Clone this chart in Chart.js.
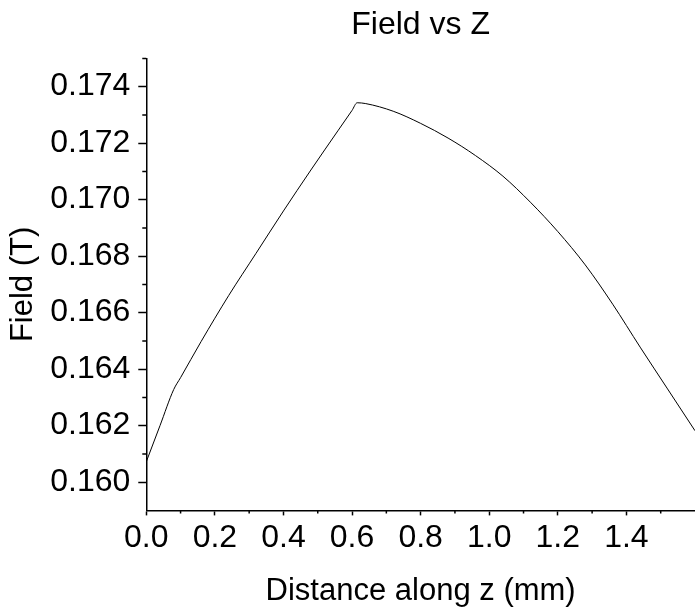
<!DOCTYPE html>
<html>
<head>
<meta charset="utf-8">
<title>Field vs Z</title>
<script src="https://cdn.jsdelivr.net/npm/chart.js@4.4.1/dist/chart.umd.min.js"></script>
<style>
    html, body { margin: 0; padding: 0; background: #fff; }
    #wrap { width: 695px; height: 612px; position: relative; }
</style>
</head>
<body>
<div id="wrap"><canvas id="fieldChart"></canvas></div>
<script>
const zValues = [0, 0.04, 0.08, 0.10, 0.16, 0.24, 0.32, 0.40, 0.48, 0.56, 0.60, 0.615, 0.64, 0.72, 0.80,
    0.88, 0.96, 1.04, 1.12, 1.20, 1.28, 1.36, 1.44, 1.52, 1.60];
const fieldValues = [0.16072, 0.16200, 0.16328, 0.16370, 0.16498, 0.16660, 0.16810, 0.16960, 0.17105, 0.17246,
    0.17316, 0.17343, 0.17340, 0.17313, 0.17270, 0.17218, 0.17156, 0.17083, 0.16991, 0.16887,
    0.16769, 0.16630, 0.16478, 0.16330, 0.16182];

const xMajorTicks = [0, 0.2, 0.4, 0.6, 0.8, 1.0, 1.2, 1.4];
const xMinorTicks = [0.1, 0.3, 0.5, 0.7, 0.9, 1.1, 1.3, 1.5];
const yMajorTicks = [0.160, 0.162, 0.164, 0.166, 0.168, 0.170, 0.172, 0.174];
const yMinorTicks = [0.161, 0.163, 0.165, 0.167, 0.169, 0.171, 0.173, 0.175];

const fontFamily = "'Liberation Sans', Arial, sans-serif";
Chart.defaults.color = '#000';
Chart.defaults.font.family = fontFamily;

// short minor tick marks, placed through the scales
const minorTicks = {
    id: 'minorTicks',
    afterDraw(chart) {
        const ctx = chart.ctx;
        const xs = chart.scales.x;
        const ys = chart.scales.y;
        ctx.save();
        ctx.strokeStyle = '#000';
        ctx.lineWidth = 1.5;
        ctx.beginPath();
        xMinorTicks.forEach(v => {
            const px = xs.getPixelForValue(v);
            ctx.moveTo(px, xs.top);
            ctx.lineTo(px, xs.top + 3);
        });
        yMinorTicks.forEach(v => {
            const py = ys.getPixelForValue(v);
            ctx.moveTo(ys.right, py);
            ctx.lineTo(ys.right - 4, py);
        });
        ctx.stroke();
        ctx.restore();
    }
};

const data = {
    datasets: [{
        data: zValues.map((z, i) => ({ x: z, y: fieldValues[i] })),
        borderColor: '#000',
        borderWidth: 1,
        pointRadius: 0,
        cubicInterpolationMode: 'monotone',
        fill: false,
    }],
};

const config = {
    type: 'line',
    data: data,
    options: {
        responsive: true,
        maintainAspectRatio: false,
        animation: false,
        layout: { padding: { left: 0, right: 0, top: 0, bottom: 0 } },
        plugins: {
            legend: { display: false },
            tooltip: { enabled: false },
            title: {
                display: true,
                text: 'Field vs Z',
                fullSize: false,
                font: { size: 32, weight: 'normal' },
                padding: { top: 6, bottom: 14 },
            },
        },
        scales: {
            x: {
                type: 'linear',
                min: 0,
                max: 1.6,
                afterBuildTicks: s => { s.ticks = xMajorTicks.map(v => ({ value: v })); },
                ticks: {
                    font: { size: 32 },
                    padding: 4,
                    maxRotation: 0,
                    callback: v => v.toFixed(1),
                },
                grid: { drawOnChartArea: false, tickLength: 5, tickColor: '#000', tickWidth: 1.5 },
                border: { color: '#000', width: 1.5 },
                title: {
                    display: true,
                    text: 'Distance along z (mm)',
                    font: { size: 31 },
                    padding: { top: 11, bottom: 2 },
                },
            },
            y: {
                type: 'linear',
                min: 0.159,
                max: 0.175,
                afterBuildTicks: s => { s.ticks = yMajorTicks.map(v => ({ value: v })); },
                ticks: {
                    font: { size: 32 },
                    padding: 8,
                    callback: v => v.toFixed(3),
                },
                grid: { drawOnChartArea: false, tickLength: 8, tickColor: '#000', tickWidth: 1.5 },
                border: { color: '#000', width: 1.5 },
                title: {
                    display: true,
                    text: 'Field (T)',
                    font: { size: 31 },
                    padding: { top: 5, bottom: 0 },
                },
            },
        },
    },
    plugins: [minorTicks],
};

const fieldChart = new Chart(document.getElementById('fieldChart'), config);
</script>
</body>
</html>
